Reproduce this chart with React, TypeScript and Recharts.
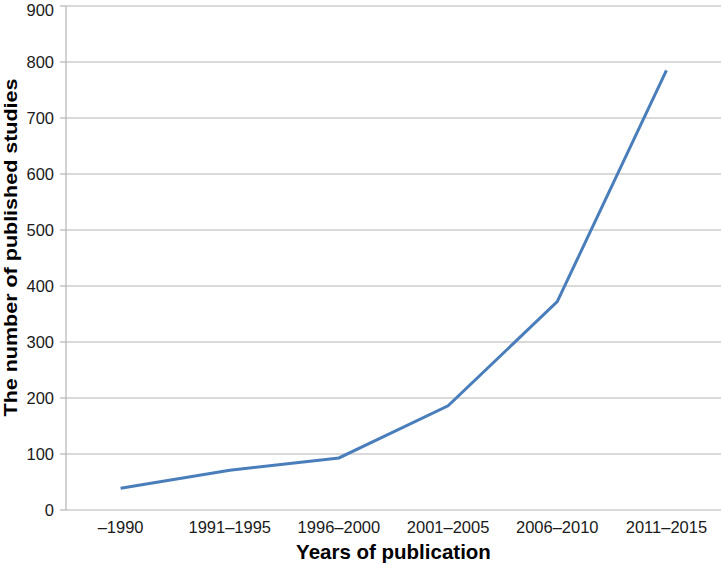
import { LineChart, Line, XAxis, YAxis, CartesianGrid, Label } from 'recharts';

const periods = ['\u20131990', '1991\u20131995', '1996\u20132000', '2001\u20132005', '2006\u20132010', '2011\u20132015'];
const studies = [39, 71, 93, 186, 372, 785];
const yTicks = [0, 100, 200, 300, 400, 500, 600, 700, 800, 900];
const boundaryTicks = [0, 1, 2, 3, 4, 5, 6];

const chartData = periods.map((period, i) => ({ period, studies: studies[i] }));

const GRID = '#b4b4b4';
const FONT = '"Liberation Sans", Arial, sans-serif';

export default function App() {
  return (
    <div style={{ width: 723, height: 565, fontFamily: FONT }}>
      <style>{'body{margin:0;}'}</style>
      <LineChart
        width={723}
        height={565}
        data={chartData}
        margin={{ top: 6, right: 2, left: 0, bottom: 0 }}
      >
        <CartesianGrid horizontal vertical={false} stroke={GRID} strokeWidth={1.2} />
        {/* separators between categories, Excel style */}
        <XAxis
          xAxisId="sep"
          type="number"
          domain={[0, 6]}
          ticks={boundaryTicks}
          allowDataOverflow
          height={0}
          tickSize={5}
          tickFormatter={() => ''}
          stroke={GRID}
          axisLine={{ stroke: GRID, strokeWidth: 1.2 }}
          tickLine={{ stroke: GRID, strokeWidth: 1.2 }}
        />
        <XAxis
          xAxisId="cat"
          dataKey="period"
          scale="band"
          interval={0}
          height={55}
          axisLine={false}
          tickLine={false}
          tickSize={5}
          tickMargin={6}
          tick={{ fontSize: 16.5, fill: '#1a1a1a', fontFamily: FONT }}
        >
          <Label
            value="Years of publication"
            position="insideBottom"
            offset={6}
            style={{ fontSize: 20.5, fontWeight: 'bold', fill: '#000', fontFamily: FONT }}
          />
        </XAxis>
        <YAxis
          domain={[0, 900]}
          ticks={yTicks}
          width={66}
          tickSize={6}
          tickMargin={6}
          axisLine={{ stroke: GRID, strokeWidth: 1.2 }}
          tickLine={{ stroke: GRID, strokeWidth: 1.2 }}
          tick={{ fontSize: 16.5, fill: '#1a1a1a', fontFamily: FONT }}
        >
          <Label
            content={({ viewBox }: any) => {
              const cx = 10;
              const cy = viewBox.y + viewBox.height / 2 - 10.5;
              return (
                <text
                  x={cx}
                  y={cy}
                  transform={`rotate(-90, ${cx}, ${cy})`}
                  textAnchor="middle"
                  dominantBaseline="central"
                  textLength={338}
                  lengthAdjust="spacingAndGlyphs"
                  style={{ fontSize: 19, fontWeight: 'bold', fill: '#000', fontFamily: FONT }}
                >
                  The number of published studies
                </text>
              );
            }}
          />
        </YAxis>
        <Line
          xAxisId="cat"
          type="linear"
          dataKey="studies"
          stroke="#4a7ebb"
          strokeWidth={3}
          dot={false}
          isAnimationActive={false}
        />
      </LineChart>
    </div>
  );
}
